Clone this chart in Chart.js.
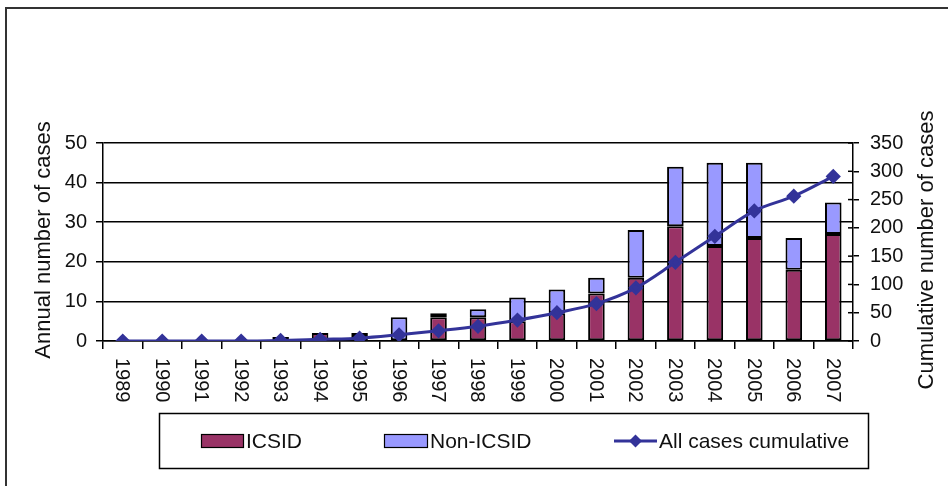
<!DOCTYPE html>
<html>
<head>
<meta charset="utf-8">
<script src="https://cdn.jsdelivr.net/npm/chart.js@4.4.1/dist/chart.umd.min.js"></script>
<style>
  body { margin: 0; background: #fff; }
  canvas { display: block; }
</style>
</head>
<body>
<canvas id="casesChart" width="948" height="486"></canvas>
<script>
// data
const years = ['1989', '1990', '1991', '1992', '1993', '1994', '1995', '1996', '1997', '1998',
  '1999', '2000', '2001', '2002', '2003', '2004', '2005', '2006', '2007'];
const icsid = [0, 0, 0, 0, 1, 2, 1, 0, 6, 6, 5, 7, 12, 16, 29, 24, 26, 18, 27];
const nonIcsid = [0, 0, 0, 0, 0, 0, 1, 6, 1, 2, 6, 6, 4, 12, 15, 21, 19, 8, 8];
const cumulative = [0, 0, 0, 0, 1, 3, 5, 11, 18, 26, 37, 50, 66, 94, 139, 185, 230, 256, 291];
const annualTicks = [0, 10, 20, 30, 40, 50];
const cumulativeTicks = [0, 50, 100, 150, 200, 250, 300, 350];

const FONT = '"Liberation Sans", Arial, sans-serif';
const MAROON = '#993366';
const LIGHT = '#9999ff';
const NAVY = '#333399';

// frame, rotated x labels, axis titles and the boxed legend
const decorations = {
  id: 'decorations',
  afterDraw(chart) {
    const ctx = chart.ctx;
    const x = chart.scales.x;
    const y1 = chart.scales.y1;
    ctx.save();

    // outer frame
    ctx.strokeStyle = '#333';
    ctx.lineWidth = 2;
    ctx.strokeRect(6, 8, 1000, 600);

    // inner half of the right axis tick marks
    ctx.strokeStyle = '#000';
    ctx.lineWidth = 1.5;
    y1.ticks.forEach((t, i) => {
      const py = y1.getPixelForTick(i);
      ctx.beginPath();
      ctx.moveTo(y1.left - 5, py);
      ctx.lineTo(y1.left, py);
      ctx.stroke();
    });

    // x labels, read top to bottom
    ctx.fillStyle = '#111';
    ctx.font = '20px ' + FONT;
    ctx.textAlign = 'left';
    ctx.textBaseline = 'middle';
    years.forEach((label, i) => {
      const px = x.getPixelForValue(i);
      ctx.save();
      ctx.translate(px - 1, 358);
      ctx.rotate(Math.PI / 2);
      ctx.fillText(label, 0, 0);
      ctx.restore();
    });

    // axis titles
    ctx.font = '22px ' + FONT;
    ctx.textAlign = 'center';
    ctx.save();
    ctx.translate(44, 240);
    ctx.rotate(-Math.PI / 2);
    ctx.fillText('Annual number of cases', 0, 0);
    ctx.restore();
    ctx.save();
    ctx.translate(927, 250);
    ctx.rotate(-Math.PI / 2);
    ctx.fillText('Cumulative number of cases', 0, 0);
    ctx.restore();

    // legend
    ctx.strokeStyle = '#000';
    ctx.lineWidth = 1.5;
    ctx.strokeRect(159.5, 413.5, 709, 55);
    const ly = 441;
    ctx.lineWidth = 1.2;
    ctx.fillStyle = MAROON;
    ctx.fillRect(201, ly - 7, 43, 14);
    ctx.strokeRect(201.5, ly - 6.5, 42, 13);
    ctx.fillStyle = LIGHT;
    ctx.fillRect(384, ly - 7, 44, 14);
    ctx.strokeRect(384.5, ly - 6.5, 43, 13);
    ctx.strokeStyle = NAVY;
    ctx.lineWidth = 3;
    ctx.beginPath();
    ctx.moveTo(614, ly);
    ctx.lineTo(657, ly);
    ctx.stroke();
    ctx.fillStyle = NAVY;
    ctx.beginPath();
    ctx.moveTo(635.5, ly - 6.5);
    ctx.lineTo(642, ly);
    ctx.lineTo(635.5, ly + 6.5);
    ctx.lineTo(629, ly);
    ctx.closePath();
    ctx.fill();

    ctx.fillStyle = '#111';
    ctx.font = '21px ' + FONT;
    ctx.textAlign = 'left';
    ctx.fillText('ICSID', 246, ly + 1);
    ctx.fillText('Non-ICSID', 430, ly + 1);
    ctx.fillText('All cases cumulative', 659, ly + 1);
    ctx.restore();
  }
};

new Chart(document.getElementById('casesChart'), {
  type: 'bar',
  data: {
    labels: years,
    datasets: [
      {
        type: 'line',
        label: 'All cases cumulative',
        data: cumulative,
        yAxisID: 'y1',
        borderColor: NAVY,
        backgroundColor: NAVY,
        borderWidth: 3,
        pointStyle: 'rectRot',
        pointRadius: 5.5,
        pointBackgroundColor: NAVY,
        pointBorderColor: NAVY,
        cubicInterpolationMode: 'monotone',
        order: 0
      },
      {
        label: 'ICSID',
        data: icsid,
        backgroundColor: MAROON,
        borderColor: '#000',
        borderWidth: 2,
        borderSkipped: false,
        barPercentage: 0.42,
        categoryPercentage: 1,
        order: 1
      },
      {
        label: 'Non-ICSID',
        data: nonIcsid,
        backgroundColor: LIGHT,
        borderColor: '#000',
        borderWidth: 2,
        borderSkipped: false,
        barPercentage: 0.42,
        categoryPercentage: 1,
        order: 1
      }
    ]
  },
  options: {
    responsive: false,
    animation: false,
    layout: { padding: { top: 143, left: 0, right: 0, bottom: 0 } },
    plugins: {
      legend: { display: false },
      tooltip: { enabled: false }
    },
    scales: {
      x: {
        stacked: true,
        grid: { drawOnChartArea: false, offset: true, color: '#000', lineWidth: 1.5, tickLength: 8 },
        border: { color: '#000', width: 1.5 },
        ticks: { display: false },
        afterFit: s => { s.height = 145; }
      },
      y: {
        stacked: true,
        position: 'left',
        min: annualTicks[0],
        max: annualTicks[annualTicks.length - 1],
        ticks: { stepSize: 10, color: '#111', font: { family: FONT, size: 20 }, padding: 9 },
        grid: { color: '#000', lineWidth: 1.5, tickLength: 7 },
        border: { color: '#000', width: 1.5 },
        afterFit: s => { s.width = 103; }
      },
      y1: {
        position: 'right',
        min: cumulativeTicks[0],
        max: cumulativeTicks[cumulativeTicks.length - 1],
        ticks: { stepSize: 50, color: '#111', font: { family: FONT, size: 20 }, padding: 11 },
        grid: { drawOnChartArea: false, color: '#000', lineWidth: 1.5, tickLength: 6 },
        border: { color: '#000', width: 1.5 },
        afterFit: s => { s.width = 95; }
      }
    }
  },
  plugins: [decorations]
});
</script>
</body>
</html>
